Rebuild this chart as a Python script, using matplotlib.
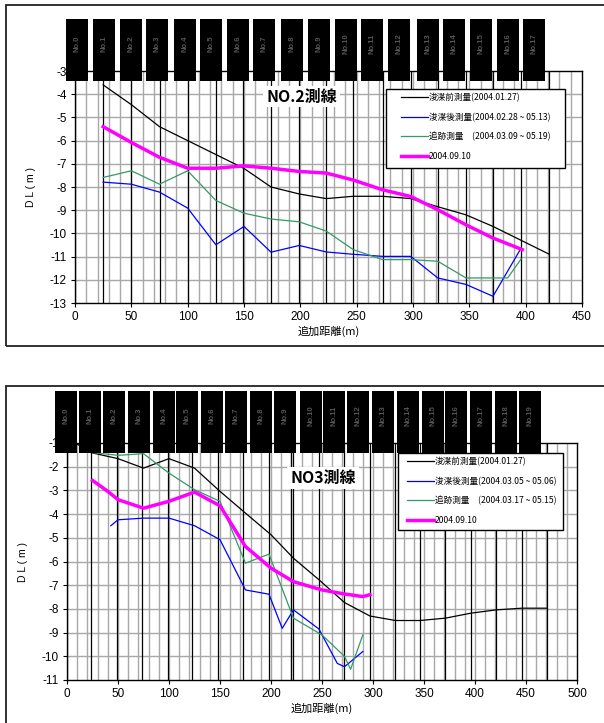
import matplotlib
matplotlib.use('Agg')

import matplotlib.pyplot as plt
from matplotlib.patches import Rectangle
from matplotlib.transforms import blended_transform_factory

plt.rcParams['font.family'] = ['Liberation Sans', 'Noto Sans CJK JP', 'DejaVu Sans']
plt.rcParams['axes.unicode_minus'] = False

W, H = 604, 723

# ---- NO.2 測線 ----
stations2 = [0, 25, 50, 75, 100, 125, 149.5, 174, 199, 223, 247, 273, 298, 322, 347, 371, 396, 421]
tags2_x = [1.5, 25.4, 49.9, 73, 97.3, 121, 145, 168, 193, 216.5, 240.9, 264, 288, 313, 336, 360, 384, 407]
tags2 = ['No.%d' % i for i in range(len(tags2_x))]

pre2_x = [25, 50, 75, 100, 125, 150, 174, 199, 223, 247, 273, 298, 322, 347, 371, 396, 421]
pre2_y = [-3.6, -4.45, -5.4, -6.0, -6.6, -7.2, -8.0, -8.3, -8.5, -8.4, -8.4, -8.5, -8.85, -9.2, -9.7, -10.3, -10.9]
post2_x = [25, 50, 75, 100, 125, 150, 174, 199, 223, 247, 273, 298, 322, 347, 371, 396]
post2_y = [-7.79, -7.88, -8.22, -8.91, -10.49, -9.70, -10.81, -10.52, -10.8, -10.9, -10.99, -10.99, -11.92, -12.2, -12.71, -10.63]
trk2_x = [25, 50, 75, 100, 125, 150, 174, 199, 223, 247, 273, 298, 322, 347, 384, 396]
trk2_y = [-7.59, -7.3, -7.88, -7.3, -8.58, -9.13, -9.38, -9.5, -9.9, -10.7, -11.13, -11.13, -11.2, -11.92, -11.92, -11.1]
sep2_x = [25, 50, 75, 100, 125, 150, 174, 199, 223, 247, 273, 298, 322, 347, 371, 397]
sep2_y = [-5.4, -6.08, -6.72, -7.19, -7.19, -7.09, -7.19, -7.33, -7.4, -7.7, -8.12, -8.41, -8.98, -9.63, -10.2, -10.7]
labels2 = ['浚渫前測量(2004.01.27)', '浚渫後測量(2004.02.28 ~ 05.13)',
           '追跡測量　(2004.03.09 ~ 05.19)', '2004.09.10']

# ---- NO3 測線 ----
stations3 = [0, 24, 49, 74, 99, 123, 148, 173, 198, 220, 222, 247, 272, 297, 322, 346, 371, 396, 421, 446, 471]
tags3_x = [-1, 22.5, 46, 71, 95, 118, 142, 166, 190.5, 214, 239, 262, 285.6, 310, 334, 358.5, 381.7, 405.9, 430, 453.9]
tags3 = ['No.%d' % i for i in range(len(tags3_x))]

pre3_x = [10, 25, 50, 75, 100, 125, 150, 175, 200, 222, 247, 272, 297, 322, 346, 371, 396, 421, 446, 471]
pre3_y = [-1.05, -1.42, -1.66, -2.06, -1.66, -2.06, -3.04, -3.96, -4.87, -5.86, -6.77, -7.73, -8.3, -8.49, -8.49, -8.39, -8.18, -8.04, -7.97, -7.97]
post3_x = [43, 50, 75, 100, 125, 150, 175, 198, 211, 222, 247, 265, 272, 290]
post3_y = [-4.49, -4.24, -4.17, -4.17, -4.49, -5.08, -7.2, -7.38, -8.82, -8.04, -8.85, -10.3, -10.44, -9.8]
trk3_x = [25, 50, 75, 100, 125, 150, 175, 198, 222, 250, 272, 278, 290]
trk3_y = [-1.4, -1.52, -1.45, -2.27, -2.97, -3.46, -6.07, -5.69, -8.39, -9.1, -10.0, -10.55, -9.1]
sep3_x = [25, 40, 50, 75, 100, 125, 150, 175, 200, 222, 250, 272, 290, 297]
sep3_y = [-2.58, -3.04, -3.39, -3.75, -3.46, -3.07, -3.65, -5.37, -6.28, -6.85, -7.2, -7.37, -7.48, -7.4]
labels3 = ['浚渫前測量(2004.01.27)', '浚渫後測量(2004.03.05 ~ 05.06)',
           '追跡測量　(2004.03.17 ~ 05.15)', '2004.09.10']

cjk = ['Noto Sans CJK JP', 'DejaVu Sans']


def px_axes(fig, l, t, r, b):
    return fig.add_axes([l / W, 1 - b / H, (r - l) / W, (b - t) / H])


def draw_panel(fig, box, xmax, ymin, ymax, stations, tag_x, tag_txt, tag_w,
               series, labels, title, title_xy, leg_box, handle_x):
    l, t, r, b = box
    ax = px_axes(fig, l, t, r, b)
    ax.set_xlim(0, xmax)
    ax.set_ylim(ymin, ymax)

    # グリッド
    for x in range(10, xmax, 10):
        ax.axvline(x, color='#a8a8a8', lw=1.0, zorder=1)
    for y in range(ymin + 1, ymax):
        ax.axhline(y, color='#a8a8a8', lw=1.0, zorder=1)
    for s in stations:
        ax.axvline(s, color='black', lw=0.9, zorder=2)

    colors = ['black', '#0000ff', '#339966', '#ff00ff']
    widths = [0.9, 0.9, 0.9, 2.5]
    for (xs, ys), c, w, lab in zip(series, colors, widths, labels):
        ax.plot(xs, ys, color=c, lw=w, label=lab, zorder=4)

    ax.set_xticks(range(0, xmax + 1, 50))
    ax.set_yticks(range(ymin, ymax + 1))
    ax.tick_params(length=3, width=0.8, labelsize=8.5, pad=3)
    for sp in ax.spines.values():
        sp.set_linewidth(1.0)
    ax.set_xlabel('追加距離(m)', fontsize=8, family=cjk, labelpad=2)
    ax.set_ylabel('D L ( m )', fontsize=7.5, labelpad=10)

    # 測点ラベル
    trans = blended_transform_factory(ax.transData, ax.transAxes)
    h_ax = b - t
    y0 = 1 - 10 / h_ax
    y1 = 1 + 52 / h_ax
    for x, txt in zip(tag_x, tag_txt):
        ax.add_patch(Rectangle((x - tag_w / 2, y0), tag_w, y1 - y0, transform=trans,
                               facecolor='black', edgecolor='none', clip_on=False, zorder=10))
        ax.text(x, y0 + (y1 - y0) * 0.6, txt, transform=trans, rotation=90,
                ha='center', va='center', color='#555555', fontsize=5.5,
                fontweight='bold', clip_on=False, zorder=11)

    ax.text(title_xy[0], title_xy[1], title, fontsize=11.5, fontweight='bold',
            family=cjk, ha='center', va='center', zorder=6,
            bbox=dict(facecolor='white', edgecolor='none', pad=2))

    # 凡例（枠は別に描く）
    ll, lt, lr, lb = leg_box
    ax_tr = ax.transAxes
    fx = lambda p: (p - l) / (r - l)
    fy = lambda p: 1 - (p - t) / (b - t)
    ax.add_patch(Rectangle((fx(ll), fy(lb)), fx(lr) - fx(ll), fy(lt) - fy(lb), transform=ax_tr,
                           facecolor='white', edgecolor='black', lw=1.0, zorder=12))
    leg = ax.legend(loc='upper left', bbox_to_anchor=(fx(handle_x), fy(lt + 4)),
                    prop={'family': cjk, 'size': 6.2}, frameon=False,
                    handlelength=3.1, handletextpad=0.1, labelspacing=1.2,
                    borderpad=0, borderaxespad=0)
    leg.set_zorder(13)
    return ax


fig = plt.figure(figsize=(W / 100, H / 100), dpi=100)

# 外枠
fig.patches.append(Rectangle((6 / W, 1 - 346 / H), 610 / W, 341 / H, transform=fig.transFigure,
                             fill=False, edgecolor='#222222', lw=1.3))
fig.patches.append(Rectangle((6 / W, 1 - 740 / H), 610 / W, 354 / H, transform=fig.transFigure,
                             fill=False, edgecolor='#222222', lw=1.3))

draw_panel(fig, (75, 71, 582, 303), 450, -13, -3, stations2, tags2_x, tags2, 19.5,
           [(pre2_x, pre2_y), (post2_x, post2_y), (trk2_x, trk2_y), (sep2_x, sep2_y)],
           labels2, 'NO.2測線', (201, -4.1), (386, 89, 565, 168), 401)

draw_panel(fig, (67, 443, 577, 680), 500, -11, -1, stations3, tags3_x, tags3, 21.5,
           [(pre3_x, pre3_y), (post3_x, post3_y), (trk3_x, trk3_y), (sep3_x, sep3_y)],
           labels3, 'NO3測線', (251, -2.48), (398, 453, 563, 530), 407)

fig.savefig('out.png', dpi=100)
